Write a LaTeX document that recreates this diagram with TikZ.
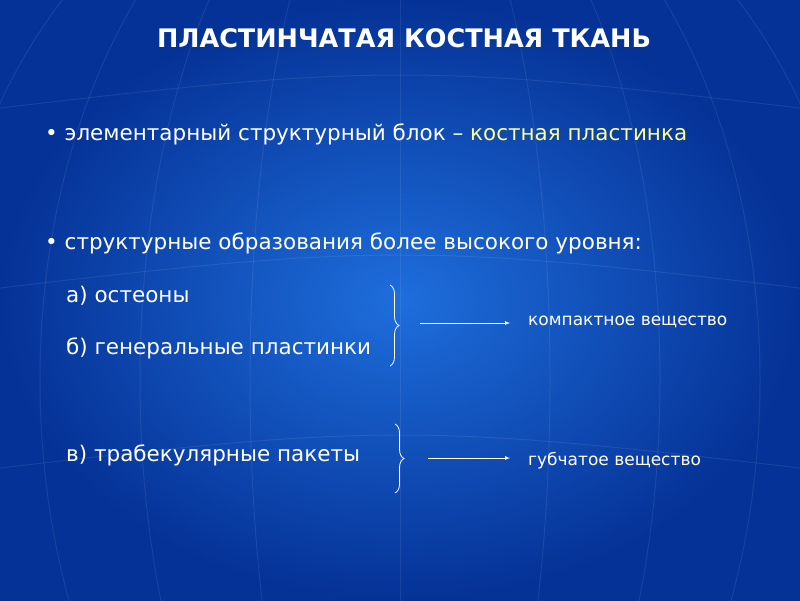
\documentclass[tikz,border=0pt]{standalone}
\usepackage{fontspec}
\setmainfont{DejaVu Sans}
\usetikzlibrary{decorations.pathreplacing}
\definecolor{bgin}{RGB}{30,110,220}
\definecolor{bgout}{RGB}{5,50,150}
\definecolor{ylw}{RGB}{255,255,150}
\tikzset{
 txt/.style={text=white,anchor=west,inner sep=0pt,font=\fontsize{21.5}{24}\selectfont},
 small/.style={text=white,anchor=west,inner sep=0pt,font=\fontsize{17}{19}\selectfont},
 grid/.style={draw=white,opacity=0.08,line width=1pt},
 brc/.style={draw=white,line width=0.8pt,decorate,decoration={brace,amplitude=9pt}},
 arr/.style={draw=white,line width=0.7pt,-latex}
}
\begin{document}
\begin{tikzpicture}[x=1pt,y=-1pt]
\useasboundingbox (0,0) rectangle (800,600);
\shade[inner color=bgin,outer color=bgout] (0,0) rectangle (800,600);
\begin{scope}
\clip (0,0) rectangle (800,600);
\foreach \r in {150,260,360,460}{\draw[grid] (400,380) ellipse ({\r} and 560);}
\foreach \yy in {120,300,480}{\draw[grid] (-100,\yy) .. controls (400,\yy-60) .. (900,\yy);}
\draw[grid] (400,-200) -- (400,800);
\end{scope}
\node[text=white,font=\bfseries\fontsize{25.5}{28}\selectfont] (title) at (404,38) {ПЛАСТИНЧАТАЯ КОСТНАЯ ТКАНЬ};
\node[txt] (b1) at (45,134) {• элементарный структурный блок – \textcolor{ylw}{костная пластинка}};
\node[txt] (b2) at (45,243) {• структурные образования более высокого уровня:};
\node[txt] (a) at (66,296) {а) остеоны};
\node[txt] (b) at (66,348) {б) генеральные пластинки};
\node[txt] (c) at (66,455) {в) трабекулярные пакеты};
\coordinate (br1t) at (390,285); \coordinate (br1b) at (390,366);
\coordinate (br2t) at (395,424); \coordinate (br2b) at (395,493);
\draw[brc] (br1t) -- (br1b);
\draw[brc] (br2t) -- (br2b);
\node[small] (k) at (528,322) {компактное вещество};
\node[small] (g) at (528,461) {губчатое вещество};
\coordinate (s1) at (420,323); \coordinate (e1) at (510,323);
\coordinate (s2) at (428,458); \coordinate (e2) at (510,458);
\draw[arr] (s1) -- (e1);
\draw[arr] (s2) -- (e2);
\end{tikzpicture}
\end{document}
